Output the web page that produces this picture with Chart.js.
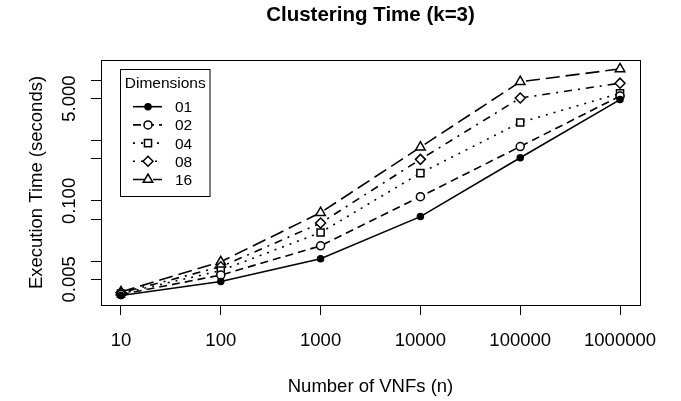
<!DOCTYPE html>
<html>
<head>
<meta charset="utf-8">
<script src="https://cdn.jsdelivr.net/npm/chart.js@4/dist/chart.umd.min.js"></script>
<style>
  html, body { margin: 0; padding: 0; background: #fff; }
  #wrap { width: 681px; height: 401px; }
</style>
</head>
<body>
<div id="wrap"><canvas id="c" width="681" height="401"></canvas></div>
<script>
// clustering time, k=3 -- one series per dimension count
const N_VNFS = [10, 100, 1000, 10000, 100000, 1000000];
const X_LABELS = ['10', '100', '1000', '10000', '100000', '1000000'];
const DIM_01 = [0.0027, 0.0046, 0.011, 0.055, 0.52, 4.8];
const DIM_02 = [0.0028, 0.0059, 0.018, 0.118, 0.80, 5.5];
const DIM_04 = [0.0029, 0.0070, 0.030, 0.29, 2.0, 6.1];
const DIM_08 = [0.0030, 0.0081, 0.043, 0.49, 5.1, 9.0];
const DIM_16 = [0.0031, 0.0098, 0.064, 0.78, 9.5, 15.5];
const SERIES_NAMES = ['01', '02', '04', '08', '16'];
const Y_TICKS = [0.005, 0.01, 0.05, 0.1, 0.5, 1, 5, 10];
const Y_LABELS = ['0.005', '', '', '0.100', '', '', '5.000', ''];

const FONT = '"Liberation Sans", Arial, Helvetica, sans-serif';
const STYLES = [
  { dash: [], point: 'circle', r: 3, fill: '#000' },
  { dash: [8, 5], point: 'circle', r: 4, fill: '#fff' },
  { dash: [2, 6], point: 'rect', r: 5, fill: '#fff' },
  { dash: [2, 6, 8, 6], point: 'rectRot', r: 5, fill: '#fff' },
  { dash: [14, 6], point: 'triangle', r: 5.5, fill: '#fff' },
];

const seriesValues = [DIM_01, DIM_02, DIM_04, DIM_08, DIM_16];
const datasets = seriesValues.map((vals, i) => ({
  label: SERIES_NAMES[i],
  data: N_VNFS.map((n, j) => ({ x: n, y: vals[j] })),
  borderColor: '#000',
  borderWidth: 1.6,
  borderDash: STYLES[i].dash,
  pointStyle: STYLES[i].point,
  pointRadius: STYLES[i].r,
  pointBorderWidth: 1.5,
  pointBorderColor: '#000',
  pointBackgroundColor: STYLES[i].fill,
  tension: 0,
}));

const rDecor = {
  id: 'rDecor',
  afterDraw(chart) {
    const ctx = chart.ctx;
    const a = chart.chartArea;
    const ys = chart.scales.y;
    ctx.save();
    ctx.fillStyle = '#000';
    ctx.strokeStyle = '#000';
    ctx.lineWidth = 1;
    ctx.setLineDash([]);
    ctx.strokeRect(Math.round(a.left) + 0.5, Math.round(a.top) + 0.5,
      Math.round(a.right - a.left), Math.round(a.bottom - a.top));

    const cx = (a.left + a.right) / 2;
    ctx.textAlign = 'center';
    ctx.textBaseline = 'alphabetic';
    ctx.font = 'bold 20.5px ' + FONT;
    ctx.fillText('Clustering Time (k=3)', cx, 21);
    ctx.font = '18.5px ' + FONT;
    ctx.fillText('Number of VNFs (n)', cx, 392);

    ctx.save();
    ctx.translate(41.5, (a.top + a.bottom) / 2);
    ctx.rotate(-Math.PI / 2);
    ctx.fillText('Execution Time (seconds)', 0, 0);
    ctx.restore();

    Y_TICKS.forEach((v, i) => {
      if (!Y_LABELS[i]) return;
      ctx.save();
      ctx.translate(75, ys.getPixelForValue(v));
      ctx.rotate(-Math.PI / 2);
      ctx.fillText(Y_LABELS[i], 0, 0);
      ctx.restore();
    });

    // legend box
    const lx = 120.5, ly = 69.5, lw = 89.5, lh = 127;
    ctx.fillStyle = '#fff';
    ctx.fillRect(lx, ly, lw, lh);
    ctx.strokeRect(lx, ly, lw, lh);
    ctx.fillStyle = '#000';
    ctx.font = '15.5px ' + FONT;
    ctx.fillText('Dimensions', lx + lw / 2, 88);
    chart.data.datasets.forEach((ds, i) => {
      const y = 106.7 + i * 18.2;
      ctx.setLineDash(ds.borderDash);
      ctx.lineWidth = ds.borderWidth;
      ctx.beginPath();
      ctx.moveTo(133, y);
      ctx.lineTo(162, y);
      ctx.stroke();
      ctx.setLineDash([]);
      ctx.fillStyle = ds.pointBackgroundColor;
      ctx.lineWidth = ds.pointBorderWidth;
      Chart.helpers.drawPoint(ctx, { pointStyle: ds.pointStyle, radius: ds.pointRadius, rotation: 0, borderWidth: ds.pointBorderWidth }, 148, y);
      ctx.fillStyle = '#000';
      ctx.textAlign = 'left';
      ctx.fillText(ds.label, 175, y + 5.5);
    });
    ctx.restore();
  }
};

new Chart(document.getElementById('c'), {
  type: 'line',
  data: { datasets },
  plugins: [rDecor],
  options: {
    responsive: false,
    animation: false,
    devicePixelRatio: 1,
    layout: { padding: { top: 60, right: 41, left: 0, bottom: 0 } },
    plugins: { legend: { display: false }, title: { display: false }, tooltip: { enabled: false } },
    scales: {
      x: {
        type: 'logarithmic',
        min: Math.pow(10, 0.8),
        max: Math.pow(10, 6.2),
        afterBuildTicks: s => { s.ticks = N_VNFS.map(v => ({ value: v })); },
        afterFit: s => { s.height = 96; },
        grid: { drawOnChartArea: false, drawTicks: true, tickLength: 10, color: '#000', lineWidth: 1 },
        border: { display: false },
        ticks: {
          color: '#000',
          font: { family: FONT, size: 18.5 },
          padding: 15,
          maxRotation: 0,
          autoSkip: false,
          callback: (v, i) => X_LABELS[i],
        },
      },
      y: {
        type: 'logarithmic',
        min: 0.00188,
        max: 21.8,
        afterBuildTicks: s => { s.ticks = Y_TICKS.map(v => ({ value: v })); },
        afterFit: s => { s.width = 101; },
        grid: { drawOnChartArea: false, drawTicks: true, tickLength: 10, color: '#000', lineWidth: 1 },
        border: { display: false },
        ticks: { display: false },
      },
    },
  },
});
</script>
</body>
</html>
